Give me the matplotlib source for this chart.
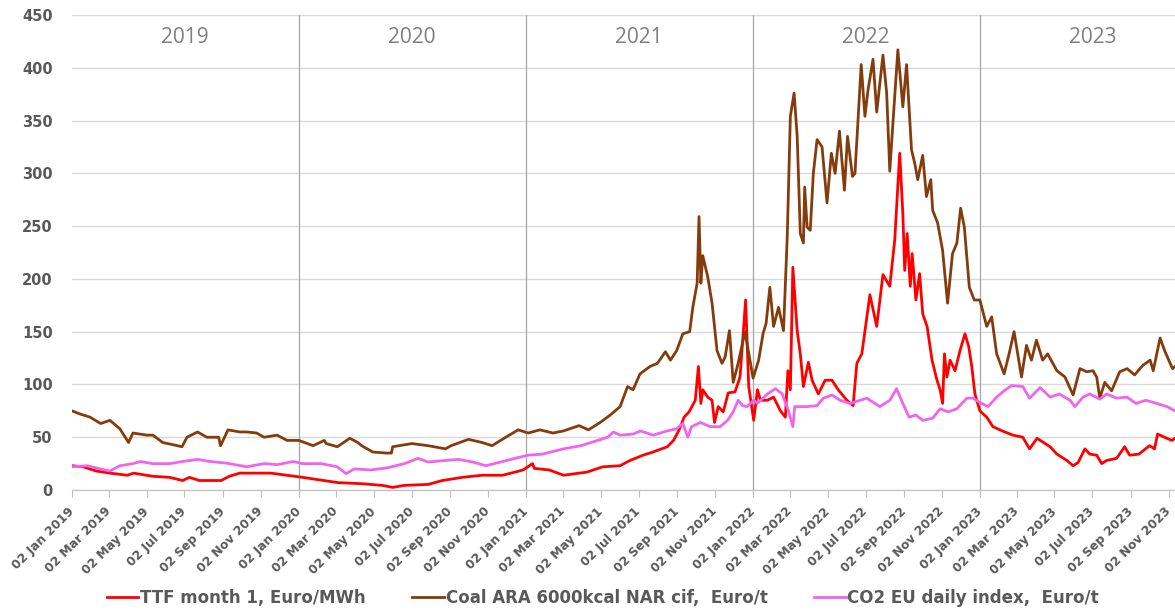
import pandas as pd
import matplotlib
matplotlib.use("Agg")
import matplotlib.pyplot as plt
import matplotlib.dates as mdates

# TTF month 1, Euro/MWh
ttf_dates = [
    "2019-01-02", "2019-01-20", "2019-02-10", "2019-03-04", "2019-04-01", "2019-04-11",
    "2019-05-12", "2019-06-08", "2019-06-29", "2019-07-10", "2019-07-26", "2019-08-30",
    "2019-09-12", "2019-09-29", "2019-10-26", "2019-11-18", "2019-12-14", "2020-01-08",
    "2020-02-17", "2020-03-05", "2020-04-12", "2020-05-15", "2020-06-01", "2020-06-20",
    "2020-07-28", "2020-08-20", "2020-09-21", "2020-10-23", "2020-11-25", "2020-12-28",
    "2021-01-12", "2021-01-15", "2021-02-08", "2021-03-03", "2021-04-10", "2021-05-05",
    "2021-06-02", "2021-06-18", "2021-07-09", "2021-07-25", "2021-08-17", "2021-08-27",
    "2021-09-05", "2021-09-13", "2021-09-21", "2021-10-01", "2021-10-06", "2021-10-10",
    "2021-10-13", "2021-10-21", "2021-10-28", "2021-11-01", "2021-11-07", "2021-11-15",
    "2021-11-23", "2021-12-04", "2021-12-12", "2021-12-21", "2021-12-26", "2022-01-03",
    "2022-01-09", "2022-01-14", "2022-01-25", "2022-02-04", "2022-02-15", "2022-02-23",
    "2022-02-27", "2022-03-03", "2022-03-07", "2022-03-14", "2022-03-19", "2022-03-24",
    "2022-04-01", "2022-04-07", "2022-04-17", "2022-04-28", "2022-05-09", "2022-05-19",
    "2022-06-02", "2022-06-12", "2022-06-18", "2022-06-26", "2022-07-09", "2022-07-20",
    "2022-07-30", "2022-08-10", "2022-08-18", "2022-08-26", "2022-08-31", "2022-09-03",
    "2022-09-07", "2022-09-12", "2022-09-15", "2022-09-21", "2022-09-27", "2022-10-02",
    "2022-10-09", "2022-10-17", "2022-10-25", "2022-10-30", "2022-11-03", "2022-11-06",
    "2022-11-10", "2022-11-15", "2022-11-23", "2022-12-01", "2022-12-09", "2022-12-15",
    "2022-12-20", "2022-12-25", "2023-01-02", "2023-01-13", "2023-01-23", "2023-02-07",
    "2023-02-24", "2023-03-12", "2023-03-23", "2023-04-04", "2023-04-25", "2023-05-06",
    "2023-05-22", "2023-06-01", "2023-06-09", "2023-06-20", "2023-06-28", "2023-07-09",
    "2023-07-17", "2023-07-25", "2023-08-10", "2023-08-23", "2023-08-31", "2023-09-15",
    "2023-10-02", "2023-10-10", "2023-10-15", "2023-10-26", "2023-11-07", "2023-11-12",
]
ttf_vals = [
    23, 22, 18, 16, 14, 16,
    13, 12, 9, 12, 9, 9,
    13, 16, 16, 16, 14, 12,
    8.5, 7, 6, 4.4, 2.5, 4.4,
    5.3, 9, 12, 14, 14, 19,
    25, 20.5, 19, 14, 17, 22,
    23, 28, 33, 36, 41, 47,
    57, 69, 74, 85, 117, 82,
    95, 88, 85, 64, 79, 74,
    92, 93, 107, 180, 98, 66,
    95, 85, 85, 88, 75, 69,
    113, 95, 211, 151, 129, 98,
    121, 104, 91, 104, 104, 95,
    85, 80, 120, 129, 185, 155,
    204, 193, 237, 319, 262, 208,
    243, 193, 224, 180, 205, 167,
    155, 123, 104, 95, 82, 129,
    107, 123, 113, 132, 148, 136,
    117, 91, 75, 69, 60, 56,
    52, 50, 39, 49, 41, 34,
    28, 23, 26, 39, 34, 33,
    25, 28, 30, 41, 33, 34,
    42, 39, 53, 50, 47, 49,
]

# Coal ARA 6000kcal NAR cif, Euro/t
coal_dates = [
    "2019-01-02", "2019-01-15", "2019-01-31", "2019-02-17", "2019-03-04", "2019-03-20",
    "2019-04-03", "2019-04-10", "2019-05-02", "2019-05-12", "2019-05-28", "2019-06-13",
    "2019-06-28", "2019-07-06", "2019-07-23", "2019-08-07", "2019-08-26", "2019-08-29",
    "2019-09-10", "2019-09-29", "2019-10-10", "2019-10-26", "2019-11-07", "2019-11-28",
    "2019-12-14", "2020-01-02", "2020-01-25", "2020-02-12", "2020-02-15", "2020-03-04",
    "2020-03-24", "2020-04-06", "2020-04-12", "2020-04-30", "2020-05-22", "2020-05-30",
    "2020-06-01", "2020-07-02", "2020-07-28", "2020-08-25", "2020-09-03", "2020-10-01",
    "2020-10-23", "2020-11-08", "2020-11-30", "2020-12-20", "2021-01-05", "2021-01-24",
    "2021-02-14", "2021-03-03", "2021-03-28", "2021-04-12", "2021-05-01", "2021-05-17",
    "2021-06-02", "2021-06-14", "2021-06-23", "2021-07-04", "2021-07-20", "2021-08-01",
    "2021-08-14", "2021-08-22", "2021-09-01", "2021-09-11", "2021-09-22", "2021-09-27",
    "2021-10-04", "2021-10-07", "2021-10-10", "2021-10-13", "2021-10-21", "2021-10-28",
    "2021-11-05", "2021-11-13", "2021-11-18", "2021-11-25", "2021-12-01", "2021-12-09",
    "2021-12-20", "2022-01-02", "2022-01-11", "2022-01-18", "2022-01-23", "2022-01-29",
    "2022-02-04", "2022-02-12", "2022-02-20", "2022-02-26", "2022-03-03", "2022-03-09",
    "2022-03-14", "2022-03-19", "2022-03-24", "2022-03-26", "2022-03-30", "2022-04-04",
    "2022-04-09", "2022-04-15", "2022-04-23", "2022-05-01", "2022-05-08", "2022-05-14",
    "2022-05-21", "2022-05-29", "2022-06-03", "2022-06-11", "2022-06-15", "2022-06-19",
    "2022-06-25", "2022-07-01", "2022-07-06", "2022-07-14", "2022-07-20", "2022-07-30",
    "2022-08-05", "2022-08-10", "2022-08-15", "2022-08-23", "2022-08-31", "2022-09-06",
    "2022-09-14", "2022-09-19", "2022-09-24", "2022-10-02", "2022-10-08", "2022-10-15",
    "2022-10-18", "2022-10-26", "2022-11-03", "2022-11-11", "2022-11-19", "2022-11-26",
    "2022-12-02", "2022-12-08", "2022-12-16", "2022-12-24", "2023-01-02", "2023-01-13",
    "2023-01-21", "2023-01-29", "2023-02-10", "2023-02-18", "2023-02-26", "2023-03-10",
    "2023-03-18", "2023-03-26", "2023-04-03", "2023-04-13", "2023-04-21", "2023-05-06",
    "2023-05-19", "2023-06-01", "2023-06-12", "2023-06-23", "2023-07-03", "2023-07-09",
    "2023-07-14", "2023-07-22", "2023-08-02", "2023-08-15", "2023-08-27", "2023-09-08",
    "2023-09-21", "2023-10-03", "2023-10-08", "2023-10-19", "2023-10-27", "2023-11-08",
    "2023-11-12",
]
coal_vals = [
    75, 72, 69, 63, 66, 58,
    45, 54, 52, 52, 45, 43,
    41, 50, 55, 50, 50, 42,
    57, 55, 55, 54, 50, 52,
    47, 47, 42, 47, 44, 41,
    49, 45, 42, 36, 35, 35,
    41, 44, 42, 39, 42, 48,
    45, 42, 50, 57, 54, 57,
    54, 56, 61, 57, 64, 71,
    79, 98, 95, 110, 117, 120,
    131, 123, 132, 148, 150, 173,
    196, 259, 196, 222, 202, 177,
    132, 120, 126, 151, 102, 120,
    150, 106, 123, 148, 158, 192,
    155, 173, 151, 240, 354, 376,
    335, 243, 234, 287, 249, 246,
    300, 332, 325, 272, 319, 300,
    340, 284, 335, 297, 300, 341,
    403, 354, 379, 408, 358, 412,
    376, 302, 347, 417, 363, 403,
    322, 310, 294, 317, 278, 294,
    265, 253, 227, 177, 224, 234,
    267, 249, 192, 180, 180, 155,
    164, 129, 110, 129, 150, 107,
    137, 123, 142, 123, 129, 113,
    107, 90, 115, 112, 113, 107,
    87, 102, 94, 112, 115, 109,
    118, 123, 113, 144, 131, 115,
    117,
]

# CO2 EU daily index, Euro/t
co2_dates = [
    "2019-01-02", "2019-01-26", "2019-02-17", "2019-03-04", "2019-03-20", "2019-04-10",
    "2019-04-22", "2019-05-12", "2019-06-08", "2019-06-29", "2019-07-23", "2019-08-12",
    "2019-09-07", "2019-10-10", "2019-11-07", "2019-11-28", "2019-12-24", "2020-01-08",
    "2020-02-07", "2020-03-04", "2020-03-18", "2020-03-31", "2020-04-27", "2020-05-23",
    "2020-06-20", "2020-07-12", "2020-07-28", "2020-08-25", "2020-09-15", "2020-10-08",
    "2020-10-29", "2020-11-25", "2020-12-15", "2021-01-05", "2021-01-28", "2021-03-03",
    "2021-03-31", "2021-04-27", "2021-05-13", "2021-05-22", "2021-06-02", "2021-06-23",
    "2021-07-05", "2021-07-25", "2021-08-17", "2021-09-01", "2021-09-11", "2021-09-19",
    "2021-09-25", "2021-10-09", "2021-10-25", "2021-11-10", "2021-11-22", "2021-12-01",
    "2021-12-09", "2021-12-16", "2021-12-23", "2022-01-03", "2022-01-09", "2022-01-25",
    "2022-02-07", "2022-02-18", "2022-02-28", "2022-03-07", "2022-03-10", "2022-03-30",
    "2022-04-15", "2022-04-25", "2022-05-09", "2022-05-22", "2022-06-07", "2022-07-04",
    "2022-07-25", "2022-08-10", "2022-08-21", "2022-08-31", "2022-09-10", "2022-09-21",
    "2022-10-02", "2022-10-18", "2022-10-30", "2022-11-12", "2022-11-26", "2022-12-12",
    "2022-12-22", "2023-01-02", "2023-01-15", "2023-01-29", "2023-02-10", "2023-02-22",
    "2023-03-12", "2023-03-23", "2023-04-09", "2023-04-25", "2023-05-10", "2023-05-27",
    "2023-06-04", "2023-06-17", "2023-06-28", "2023-07-14", "2023-07-25", "2023-08-10",
    "2023-08-27", "2023-09-10", "2023-09-26", "2023-10-14", "2023-10-30", "2023-11-12",
]
co2_vals = [
    22, 23, 20, 18, 23, 25,
    27, 25, 25, 27, 29, 27,
    25.5, 22, 25, 24, 27, 25,
    25, 22, 15.5, 20, 19, 21,
    25, 30, 26.5, 28, 29, 26.5,
    23, 27, 30, 33, 34, 39,
    42, 47, 50, 55, 52, 53,
    56, 52, 56, 58, 63, 50,
    60, 64, 60, 60, 66, 74,
    85, 80, 79, 85, 82, 91,
    96, 91, 75, 60, 79, 79,
    80, 87, 90, 85, 82, 87,
    79, 85, 96, 82, 69, 71,
    66, 68, 77, 74, 77, 87,
    87, 83, 79, 88, 94, 99,
    98, 87, 97, 88, 91, 85,
    79, 88, 91, 86, 91, 87,
    88, 82, 85, 82, 79, 75,
]

year_labels = ["2019", "2020", "2021", "2022", "2023"]
legend_labels = ["TTF month 1, Euro/MWh", "Coal ARA 6000kcal NAR cif,  Euro/t",
                 "CO2 EU daily index,  Euro/t"]

GREY = "#595959"

fig = plt.figure(figsize=(11.75, 6.11), dpi=100)
ax = fig.add_axes([0.0613, 0.198, 0.9387, 0.7775])

ax.plot(pd.to_datetime(ttf_dates), ttf_vals, color="#FF0000", lw=2.0, label=legend_labels[0])
ax.plot(pd.to_datetime(coal_dates), coal_vals, color="#843C0C", lw=2.0, label=legend_labels[1])
ax.plot(pd.to_datetime(co2_dates), co2_vals, color="#F065F0", lw=2.0, label=legend_labels[2])

ax.set_ylim(0, 450)
ax.set_yticks(range(0, 451, 50))
ax.set_xlim(pd.Timestamp("2019-01-02"), pd.Timestamp("2023-11-12"))
ax.grid(axis="y", color="#d9d9d9", lw=1.0)
ax.set_axisbelow(True)

# year separators and year names
for i, yl in enumerate(year_labels):
    if i > 0:
        ax.axvline(pd.Timestamp(yl + "-01-02"), color="#a6a6a6", lw=0.9, zorder=1)
    ax.text(pd.Timestamp(yl + "-07-02"), 429, yl, ha="center", va="center",
            fontsize=15, color="#7f7f7f", family="Open Sans")

for s in ["left", "right", "top"]:
    ax.spines[s].set_visible(False)
ax.spines["bottom"].set_color("#bfbfbf")

ax.xaxis.set_major_locator(mdates.MonthLocator(bymonth=[1, 3, 5, 7, 9, 11], bymonthday=2))
ax.xaxis.set_major_formatter(mdates.DateFormatter("%d %b %Y"))
ax.tick_params(axis="x", length=5, color="#bfbfbf", pad=9)
ax.tick_params(axis="y", length=0, pad=14)
for lbl in ax.get_xticklabels():
    lbl.set_rotation(45)
    lbl.set_ha("right")
    lbl.set_va("center")
    lbl.set_rotation_mode("anchor")
    lbl.set_fontsize(8.8)
    lbl.set_fontweight("bold")
    lbl.set_color(GREY)
for lbl in ax.get_yticklabels():
    lbl.set_fontsize(10.5)
    lbl.set_fontweight("bold")
    lbl.set_color(GREY)

leg = fig.legend(loc="center", bbox_to_anchor=(0.513, 0.021), ncol=3, frameon=False,
                 handlelength=1.9, handletextpad=0.1, columnspacing=2.8,
                 prop={"weight": "bold", "size": 12})
for t in leg.get_texts():
    t.set_color(GREY)

fig.savefig("out.png", dpi=100)
